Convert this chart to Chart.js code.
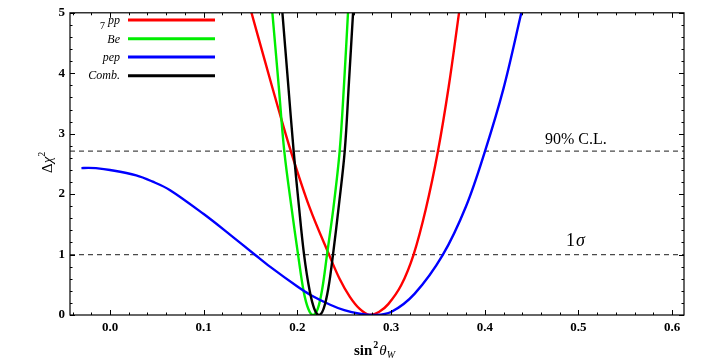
<!DOCTYPE html>
<html>
<head>
<meta charset="utf-8">
<script src="https://cdn.jsdelivr.net/npm/chart.js@4.4.1/dist/chart.umd.min.js"></script>
<style>
  html, body { margin: 0; padding: 0; background: #fff; }
  #wrap { width: 720px; height: 361px; }
</style>
</head>
<body>
<div id="wrap"><canvas id="chi2Chart" width="720" height="361"></canvas></div>
<script>
// Delta chi^2 vs sin^2(theta_W)
const ppX = [0.151, 0.165, 0.179, 0.193, 0.213, 0.2337, 0.245, 0.256, 0.2665, 0.277, 0.287, 0.297, 0.311, 0.324, 0.337, 0.350, 0.3615, 0.3725];
const ppY = [5, 4.22, 3.45, 2.71, 1.78, 1.0, 0.6, 0.3, 0.1, 0, 0.05, 0.18, 0.5, 1.0, 1.75, 2.71, 3.78, 5];

const beX = [0.1733, 0.18, 0.186, 0.1935, 0.2007, 0.2067, 0.2117, 0.2167, 0.2217, 0.2267, 0.2316, 0.2385, 0.2451, 0.2497, 0.254];
const beY = [5, 3.8, 2.71, 1.8, 1.0, 0.39, 0.1, 0, 0.1, 0.45, 1.0, 1.78, 2.71, 3.8, 5];

const pepX = [-0.0305, -0.023, -0.015, 0.0, 0.028, 0.045, 0.0637, 0.1, 0.128, 0.156, 0.1707, 0.2, 0.213, 0.235, 0.25, 0.2665, 0.281, 0.30, 0.325, 0.355, 0.38, 0.40, 0.42, 0.439];
const pepY = [2.43, 2.435, 2.43, 2.40, 2.31, 2.21, 2.07, 1.67, 1.33, 0.98, 0.80, 0.47, 0.34, 0.17, 0.08, 0.02, 0, 0.05, 0.35, 0.99, 1.8, 2.70, 3.75, 5];

const combX = [0.184, 0.19, 0.196, 0.2015, 0.2071, 0.2131, 0.2181, 0.2231, 0.2281, 0.2331, 0.238, 0.2443, 0.2505, 0.255, 0.2594];
const combY = [5, 3.85, 2.71, 1.82, 1.0, 0.4, 0.1, 0, 0.11, 0.45, 1.0, 1.82, 2.71, 3.85, 5];

const clLevels = [2.71, 1];
const xTickVals = [0, 0.1, 0.2, 0.3, 0.4, 0.5, 0.6];
const yTickVals = [0, 1, 2, 3, 4, 5];
const xMin = -0.0427, xMax = 0.6126;

const toPts = (xs, ys) => xs.map((x, i) => ({ x: x, y: ys[i] }));

const curves = [
  { label: 'pp', color: '#ff0000', pts: toPts(ppX, ppY) },
  { label: '7Be', color: '#00ee00', pts: toPts(beX, beY) },
  { label: 'pep', color: '#0000ff', pts: toPts(pepX, pepY) },
  { label: 'Comb.', color: '#000000', pts: toPts(combX, combY) }
];

const datasets = curves.slice().reverse().map(c => ({
  label: c.label,
  data: c.pts,
  borderColor: c.color,
  borderWidth: 2.4,
  pointRadius: 0,
  fill: false,
  tension: 0.35
}));
clLevels.forEach(v => datasets.push({
  label: 'cl' + v,
  data: [{ x: xMin, y: v }, { x: xMax, y: v }],
  borderColor: '#4a4a4a',
  borderWidth: 1.3,
  borderDash: [5, 4],
  pointRadius: 0
}));

const serif = "'Liberation Serif', 'DejaVu Serif', serif";

// frame with inward ticks, legend, labels
const decorPlugin = {
  id: 'decor',
  afterDraw(chart) {
    const ctx = chart.ctx;
    const a = chart.chartArea;
    const xs = chart.scales.x, ys = chart.scales.y;
    ctx.save();
    ctx.strokeStyle = '#000';
    ctx.lineWidth = 1.2;
    ctx.strokeRect(a.left, a.top, a.right - a.left, a.bottom - a.top);

    ctx.lineWidth = 1;
    ctx.beginPath();
    for (let i = -2; i <= 30; i++) {
      const v = i * 0.02;
      if (v < xMin || v > xMax) continue;
      const px = Math.round(xs.getPixelForValue(v)) + 0.5;
      const len = (i % 5 === 0) ? 5 : 2.5;
      ctx.moveTo(px, a.bottom); ctx.lineTo(px, a.bottom - len);
      ctx.moveTo(px, a.top); ctx.lineTo(px, a.top + len);
    }
    for (let i = 0; i <= 25; i++) {
      const v = i * 0.2;
      const py = Math.round(ys.getPixelForValue(v)) + 0.5;
      const len = (i % 5 === 0) ? 5 : 2.5;
      ctx.moveTo(a.left, py); ctx.lineTo(a.left + len, py);
      ctx.moveTo(a.right, py); ctx.lineTo(a.right - len, py);
    }
    ctx.stroke();

    // legend
    const rows = [20, 38.7, 57, 75.7];
    curves.forEach((c, i) => {
      const y = rows[i];
      ctx.strokeStyle = c.color;
      ctx.lineWidth = 3;
      ctx.beginPath();
      ctx.moveTo(128, y); ctx.lineTo(215, y);
      ctx.stroke();
      ctx.fillStyle = '#000';
      ctx.textAlign = 'right';
      ctx.textBaseline = 'alphabetic';
      if (c.label === '7Be') {
        ctx.font = 'italic 12px ' + serif;
        ctx.fillText('Be', 120, y + 4.5);
        ctx.font = '10px ' + serif;
        ctx.fillText('7', 105, y - 10);
      } else {
        ctx.font = 'italic 12px ' + serif;
        ctx.fillText(c.label, 120, y + 3.5);
      }
    });

    // confidence level labels
    ctx.fillStyle = '#000';
    ctx.textAlign = 'left';
    ctx.font = '16px ' + serif;
    ctx.fillText('90% C.L.', 545, ys.getPixelForValue(2.71) - 7);
    const y1 = ys.getPixelForValue(1) - 8.5;
    ctx.font = '18px ' + serif;
    ctx.fillText('1', 566, y1);
    ctx.font = 'italic 18px ' + serif;
    ctx.fillText('\u03c3', 576, y1);

    // x axis title: sin^2 theta_W
    const cx = (a.left + a.right) / 2;
    const bx = cx - 23, by = 355;
    ctx.font = 'bold 15px ' + serif;
    ctx.fillText('sin', bx, by);
    let w = ctx.measureText('sin').width;
    ctx.font = 'bold 10px ' + serif;
    ctx.fillText('2', bx + w + 1, by - 7);
    w += ctx.measureText('2').width + 2;
    ctx.font = 'italic 15px ' + serif;
    ctx.fillText('\u03b8', bx + w, by);
    w += ctx.measureText('\u03b8').width;
    ctx.font = 'italic 10px ' + serif;
    ctx.fillText('W', bx + w, by + 3);

    // y axis title: Delta chi^2
    ctx.translate(52, 162);
    ctx.rotate(-Math.PI / 2);
    ctx.textAlign = 'left';
    ctx.font = '15px ' + serif;
    let t = -11;
    ctx.fillText('\u0394', t, 0);
    t += ctx.measureText('\u0394').width;
    ctx.font = 'italic 15px ' + serif;
    ctx.fillText('\u03c7', t, 0);
    t += ctx.measureText('\u03c7').width;
    ctx.font = '10px ' + serif;
    ctx.fillText('2', t, -7);
    ctx.restore();
  }
};

new Chart(document.getElementById('chi2Chart'), {
  type: 'line',
  data: { datasets: datasets },
  options: {
    responsive: false,
    animation: false,
    layout: { padding: { top: 7, right: 36, left: 0, bottom: 0 } },
    plugins: { legend: { display: false }, tooltip: { enabled: false } },
    scales: {
      x: {
        type: 'linear',
        min: xMin,
        max: xMax,
        afterFit: s => { s.height = 46; },
        afterBuildTicks: s => { s.ticks = xTickVals.map(v => ({ value: v })); },
        grid: { display: false, drawTicks: false },
        border: { display: false },
        ticks: {
          padding: 5,
          color: '#000',
          maxRotation: 0,
          font: { family: serif, size: 13, weight: 'bold' },
          callback: v => v.toFixed(1)
        }
      },
      y: {
        type: 'linear',
        min: 0,
        max: 5,
        afterFit: s => { s.width = 70; },
        afterBuildTicks: s => { s.ticks = yTickVals.map(v => ({ value: v })); },
        grid: { display: false, drawTicks: false },
        border: { display: false },
        ticks: {
          padding: 5,
          color: '#000',
          font: { family: serif, size: 13, weight: 'bold' },
          callback: v => String(v)
        }
      }
    }
  },
  plugins: [decorPlugin]
});
</script>
</body>
</html>
